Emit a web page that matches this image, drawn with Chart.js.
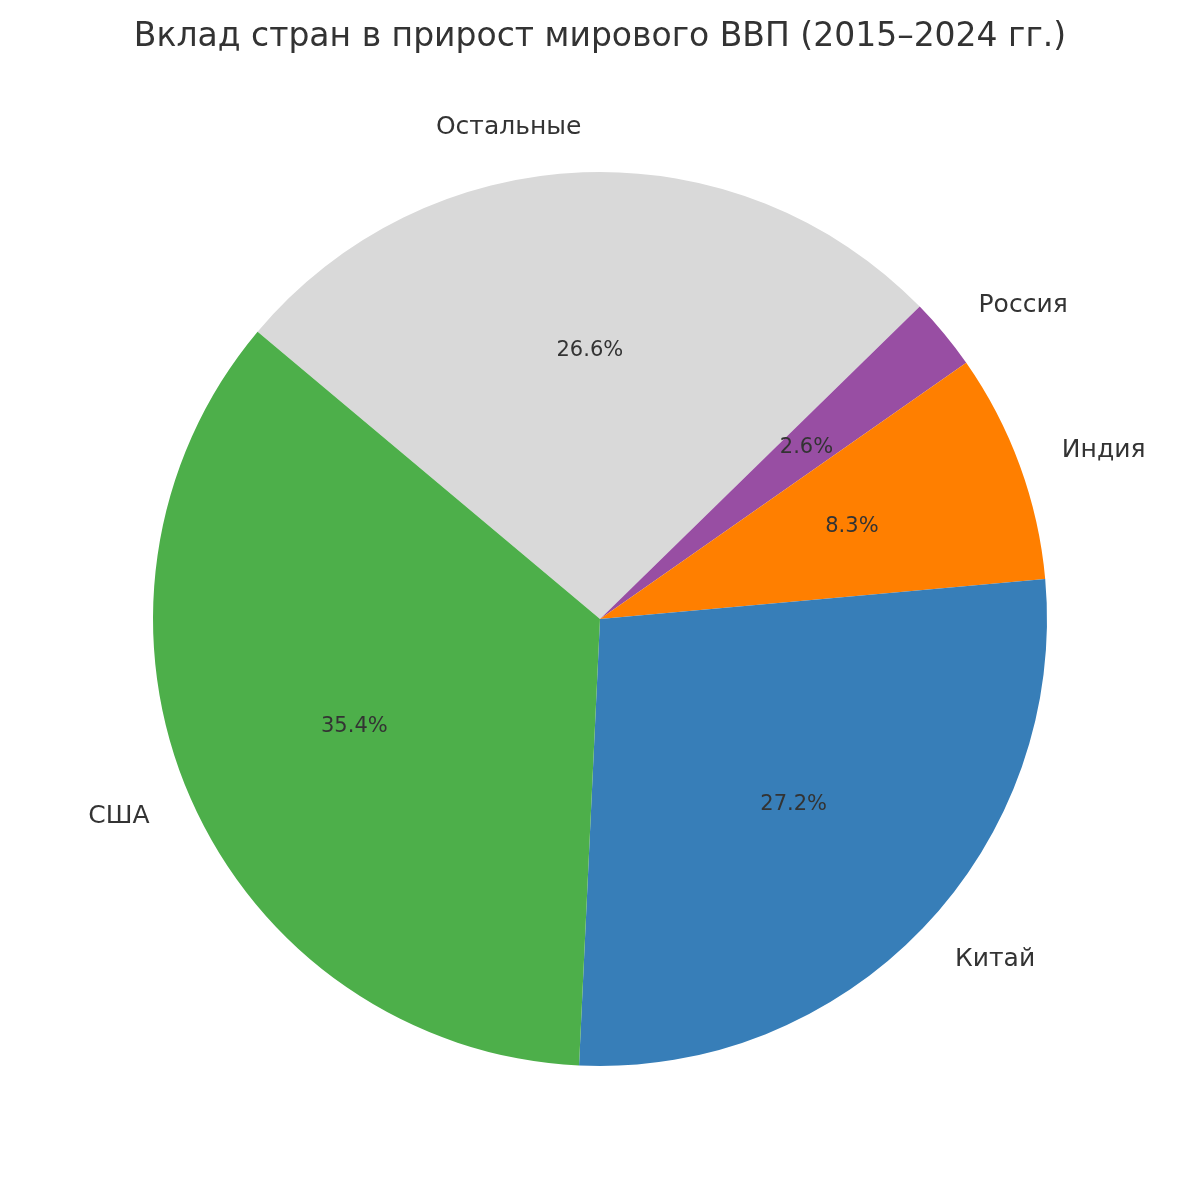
<!DOCTYPE html>
<html lang="ru">
<head>
  <meta charset="UTF-8" />
  <title>Вклад стран в прирост мирового ВВП</title>
  <script src="https://cdn.jsdelivr.net/npm/chart.js"></script>
  <style>
    body { margin: 0; background: #fff; }
  </style>
</head>
<body>

<canvas id="gdpPie" width="1200" height="1200"></canvas>

<script>
  // data, in matplotlib order (counter-clockwise from 140 deg)
  const countries = ['США', 'Китай', 'Индия', 'Россия', 'Остальные'];
  const shares = [35.4, 27.2, 8.3, 2.6, 26.6];
  const colors = ['#4daf4a', '#377eb8', '#ff7f00', '#984ea3', '#d9d9d9'];

  const titleText = 'Вклад стран в прирост мирового ВВП (2015–2024 гг.)';
  const textColor = '#333333';
  const fontFamily = '"DejaVu Sans", sans-serif';

  // Chart.js draws clockwise, so reverse to keep the same look
  const labels = countries.slice().reverse();
  const values = shares.slice().reverse();
  const fills = colors.slice().reverse();

  // labels outside (1.1 r) and percentages inside (0.6 r), like matplotlib
  const pieText = {
    id: 'pieText',
    afterDraw(chart) {
      const ctx = chart.ctx;
      const meta = chart.getDatasetMeta(0);
      const total = values.reduce((a, b) => a + b, 0);

      ctx.save();
      ctx.fillStyle = textColor;

      ctx.font = '33px ' + fontFamily;
      ctx.textAlign = 'center';
      ctx.textBaseline = 'middle';
      ctx.fillText(titleText, chart.width / 2, 37);

      meta.data.forEach((arc, i) => {
        const mid = (arc.startAngle + arc.endAngle) / 2;
        const r = arc.outerRadius;
        const dx = Math.cos(mid), dy = Math.sin(mid);

        ctx.font = '25px ' + fontFamily;
        ctx.textAlign = dx > 0 ? 'left' : 'right';
        ctx.fillText(labels[i], arc.x + dx * r * 1.1, arc.y + dy * r * 1.1);

        ctx.font = '21px ' + fontFamily;
        ctx.textAlign = 'center';
        const pct = (values[i] / total * 100).toFixed(1) + '%';
        ctx.fillText(pct, arc.x + dx * r * 0.6, arc.y + dy * r * 0.6);
      });
      ctx.restore();
    }
  };

  const ctx = document.getElementById('gdpPie').getContext('2d');
  new Chart(ctx, {
    type: 'pie',
    data: {
      labels: labels,
      datasets: [{
        data: values,
        backgroundColor: fills,
        borderWidth: 0
      }]
    },
    options: {
      responsive: false,
      animation: false,
      rotation: -50,
      layout: { padding: { left: 153, right: 153, top: 172, bottom: 134 } },
      plugins: {
        legend: { display: false },
        tooltip: { enabled: false }
      }
    },
    plugins: [pieText]
  });
</script>

</body>
</html>
